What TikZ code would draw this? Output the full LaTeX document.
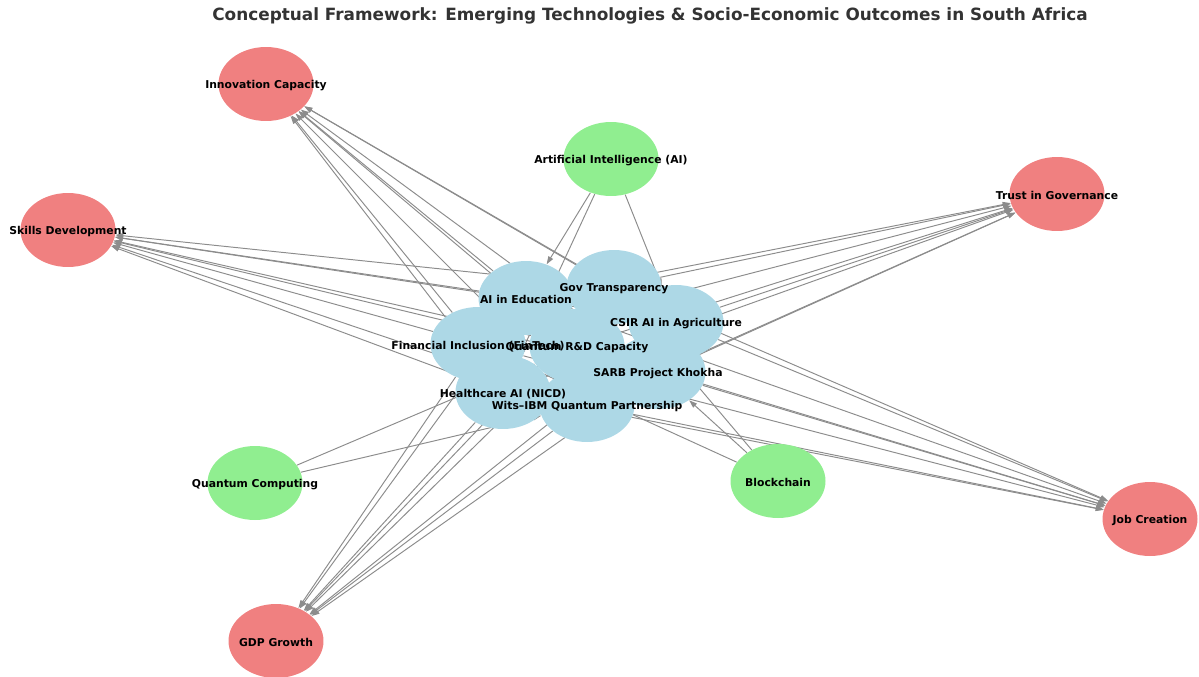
\documentclass[tikz,border=0pt]{standalone}
\usepackage{fontspec}
\setmainfont{DejaVu Sans}
\usetikzlibrary{shapes.geometric,arrows.meta}

\definecolor{lightcoral}{HTML}{F08080}
\definecolor{lightgreen}{HTML}{90EE90}
\definecolor{lightblue}{HTML}{ADD8E6}
\definecolor{edgegray}{HTML}{8C8C8C}
\definecolor{titlegray}{HTML}{333333}

\pgfdeclarelayer{bg}
\pgfsetlayers{bg,main}

\tikzset{
    blob/.style={ellipse, draw=none, minimum width=1.9cm, minimum height=1.48cm, inner sep=0pt},
    tech/.style={blob, fill=lightgreen},
    case/.style={blob, fill=lightblue},
    outcome/.style={blob, fill=lightcoral},
    lbl/.style={font=\bfseries\fontsize{6.15}{7}\selectfont, inner sep=0pt, yshift=-1pt},
    link/.style={draw=edgegray, line width=0.55pt, -{Triangle[length=4.5pt,width=3pt]}},
}

\begin{document}
\begin{tikzpicture}[x=0.02cm,y=-0.02cm]
    \useasboundingbox (0,0) rectangle (1199,676);
    \begin{scope}

        \node [font=\bfseries\fontsize{9.6}{11}\selectfont, text=titlegray] (title) at (650,16)
            {Conceptual Framework: Emerging Technologies \& Socio-Economic Outcomes in South Africa};

        % technologies, cases and outcomes
        \foreach \n/\s/\x/\y in {ai/tech/611/159, qc/tech/255/483, bc/tech/778/481,
                                 edu/case/526/298, gov/case/614/287, csir/case/676/322, fin/case/478/344,
                                 qrd/case/577/346, sarb/case/658/372, health/case/503/392, wits/case/587/405,
                                 innov/outcome/266/84, skills/outcome/68/230, trust/outcome/1057/194,
                                 jobs/outcome/1150/519, gdp/outcome/276/641}{%
            \node [\s] (\n) at (\x,\y) {};
        }

        \foreach \n/\t in {ai/Artificial Intelligence (AI), qc/Quantum Computing, bc/Blockchain,
                           edu/AI in Education, gov/Gov Transparency, csir/CSIR AI in Agriculture,
                           fin/Financial Inclusion (FinTech), qrd/Quantum R\&D Capacity,
                           sarb/SARB Project Khokha, health/Healthcare AI (NICD),
                           wits/Wits--IBM Quantum Partnership,
                           innov/Innovation Capacity, skills/Skills Development, trust/Trust in Governance,
                           jobs/Job Creation, gdp/GDP Growth}{%
            \node [lbl] (\n-t) at (\n) {\t};
        }

        \begin{pgfonlayer}{bg}
            \foreach \a/\b in {ai/edu, ai/health, ai/csir, qc/wits, qc/qrd, bc/sarb, bc/gov, bc/fin}{%
                \draw [link] (\a) -- (\b);
            }
            \foreach \c in {edu,gov,csir,fin,qrd,sarb,health,wits}{%
                \foreach \o in {innov,skills,trust,jobs,gdp}{%
                    \draw [link] (\c) -- (\o);
                }
            }
        \end{pgfonlayer}

    \end{scope}
\end{tikzpicture}
\end{document}
